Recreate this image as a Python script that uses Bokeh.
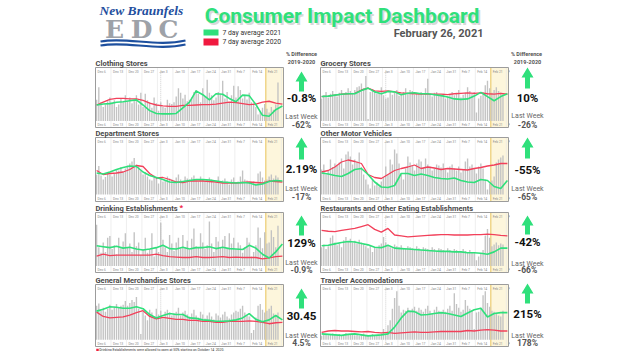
from bokeh.plotting import figure
from bokeh.layouts import column, row
from bokeh.models import Range1d, Spacer
from bokeh.embed import file_html
from bokeh.resources import INLINE
from bokeh.core.properties import value

# ---------------- data ----------------
bar_days = list(range(83))            # Dec 6 .. Feb 26, one bar per day
line_days = list(range(0, 85, 3))     # 7-day averages, read every 3 days
week_days = list(range(0, 85, 7))
week_labels = ["Dec 6", "Dec 13", "Dec 20", "Dec 27", "Jan 3", "Jan 10", "Jan 17",
               "Jan 24", "Jan 31", "Feb 7", "Feb 14", "Feb 21", "F"]

clothing_bars = [45,72,40,30,35,42,50, 38,44,30,35,48,40,55, 42,50,38,46,55,35,60, 30,58,44,40,28,50,38,
                 22,40,30,28,45,38,36, 40,52,70,60,48,56,42, 45,50,62,66,58,40,70, 52,88,60,55,44,50,62,
                 58,86,48,62,40,55,75, 50,74,66,48,56,46,60, 40,38,30,14,20,28,36, 26,18,30,24,35,82]
clothing_2021 = [34,36,37,40,41,43,45,34,22,16,15,15,16,28,40,64,56,45,58,57,48,41,55,54,35,12,10,24,32]
clothing_2020 = [34,40,46,48,48,47,47,44,38,34,32,31,31,33,33,34,35,35,36,38,40,39,37,35,36,40,42,38,36]

grocery_bars = [48,55,62,50,58,64,56, 52,60,66,58,62,70,64, 60,66,72,74,80,70,96, 4,62,68,64,58,60,72,
                55,48,50,62,56,60,66, 54,58,62,70,60,66,64, 56,60,58,62,55,70,90, 58,52,60,62,56,54,58,
                48,52,58,62,55,60,66, 50,56,60,72,64,58,62, 18,48,54,62,76,86,70, 60,66,72,64,60,58]
grocery_2021 = [52,53,55,57,58,58,65,70,62,58,63,62,56,59,60,58,58,56,54,51,47,46,47,53,61,52,43,52,58]
grocery_2020 = [52,53,55,57,58,59,66,70,64,63,64,62,60,59,58,57,57,57,57,56,58,59,60,59,60,58,57,59,57]

department_bars = [40,57,38,30,35,44,40, 36,42,50,48,55,46,52, 58,62,66,73,60,56,48, 40,45,36,30,28,38,34,
                   22,30,26,28,36,32,30, 28,34,40,30,26,36,32, 30,34,38,28,26,36,30, 26,30,34,30,24,28,36,
                   22,28,32,26,20,30,34, 24,26,36,48,30,28,24, 20,26,22,42,46,34,28, 30,36,40,32,38,34]
department_2021 = [43,41,45,50,54,57,56,45,38,34,30,25,24,26,28,30,30,29,27,25,24,23,24,23,19,21,26,28,27]
department_2020 = [48,40,42,43,45,50,58,56,42,33,34,30,25,24,27,27,27,26,25,23,23,23,24,25,24,23,27,26,25]

motor_bars = [50,60,40,48,70,55,62, 58,64,72,52,80,86,76, 60,70,66,84,55,40,30, 20,12,30,18,24,16,26,
              34,56,40,70,60,90,82, 62,40,30,52,76,64,58, 48,62,70,66,54,72,60, 56,48,52,60,58,54,62,
              50,44,56,60,52,48,56, 44,50,66,72,56,60,52, 42,56,62,52,30,10,22, 28,36,64,70,74,78]
motor_2021 = [43,41,38,36,42,50,52,40,25,15,14,18,42,42,38,41,38,34,32,31,33,28,25,24,30,28,16,12,28]
motor_2020 = [45,48,55,65,69,66,62,40,34,32,40,48,52,55,59,52,55,53,50,52,51,50,49,52,54,57,59,62,62]

drinking_bars = [88,40,28,50,30,60,64, 36,44,25,60,38,52,70, 40,48,30,72,42,50,24, 36,60,28,36,70,20,40,
                 30,92,56,40,30,66,48, 32,50,60,38,66,40,54, 34,58,80,42,40,70,50, 36,44,95,48,30,62,52,
                 40,56,64,38,70,48,60, 36,50,44,28,40,60,50, 20,30,44,82,60,38,72, 48,50,76,62,40,86]
drinking_2021 = [43,41,39,42,38,40,36,34,36,39,44,37,36,40,36,39,39,41,37,40,37,36,35,44,38,25,17,30,47]
drinking_2020 = [21,25,22,23,23,23,23,23,23,25,22,20,19,18,18,20,18,18,19,20,18,19,18,18,18,15,17,20,21]

restaurant_bars = [40,46,36,42,60,65,50, 44,48,40,55,62,52,58, 50,54,48,56,50,46,42, 38,44,30,40,38,44,48,
                   62,50,44,40,38,46,42, 40,44,38,36,42,40,38, 36,42,38,34,40,38,36, 34,40,36,32,38,36,34,
                   32,38,34,30,36,34,32, 30,36,32,28,34,30,28, 12,20,26,34,65,79,60, 42,46,50,44,48,46]
restaurant_2021 = [43,44,47,50,52,51,48,45,40,39,44,38,37,36,35,34,33,32,31,31,30,30,28,28,27,25,30,38,38]
restaurant_2020 = [76,74,73,76,78,80,84,88,78,72,80,66,64,62,63,64,65,66,67,67,66,66,66,67,67,68,67,65,64]

merch_bars = [70,75,60,66,58,64,72, 62,68,74,66,70,72,80, 70,76,82,78,88,64,12, 58,50,40,62,56,48,64,
              52,60,44,58,62,56,50, 54,58,66,50,56,60,52, 48,54,62,50,46,58,52, 44,50,56,48,42,54,50,
              46,52,58,48,44,52,56, 60,58,64,70,56,50,48, 14,20,46,70,74,62,56, 60,64,70,54,50,56]
merch_2021 = [59,63,68,67,65,65,68,64,52,45,50,54,52,52,45,44,41,40,38,38,39,41,45,54,42,37,41,50,41]
merch_2020 = [57,48,45,46,47,51,56,60,48,43,46,44,42,42,40,40,38,38,36,36,38,38,38,39,38,36,33,35,36]

travel_bars = [8,10,12,9,11,13,10, 8,12,10,9,14,11,10, 12,9,10,8,11,13,9, 10,8,12,9,10,11,13,
               22,12,30,40,64,86,100, 70,56,62,60,66,58,64, 68,60,66,62,58,64,70, 60,54,62,68,60,56,62,
               58,64,70,60,96,74,66, 58,62,82,70,64,60,22, 56,58,66,92,100,76,68, 60,58,54,50,48,60]
travel_2021 = [12,11,10,9,11,12,10,8,9,10,12,26,45,59,58,51,52,54,56,54,51,48,55,62,65,47,54,56,56]
travel_2020 = [15,18,19,18,18,17,16,17,15,14,15,13,14,15,16,15,15,16,17,17,17,17,19,18,20,21,20,18,18]

left_titles = ["Clothing Stores", "Department Stores", "Drinking Establishments", "General Merchandise Stores"]
right_titles = ["Grocery Stores", "Other Motor Vehicles", "Restaurants and Other Eating Establishments",
                "Traveler Accomodations"]
left_pct = ["-0.8%", "2.19%", "129%", "30.45"]
left_last = ["-62%", "-17%", "-0.9%", "4.5%"]
right_pct = ["10%", "-55%", "-42%", "215%"]
right_last = ["-26%", "-65%", "-66%", "178%"]

GREEN = "#2fe07b"
RED = "#f2405a"
FONT = value("Roboto")

X0, X1 = -0.5, 84.5
Y0, Y1 = -14, 114


def base_fig(W, H, xr, yr):
    p = figure(width=W, height=H, output_backend="svg", toolbar_location=None,
               x_range=xr, y_range=yr, x_axis_type=None, y_axis_type=None,
               min_border=0, outline_line_color=None,
               background_fill_color="white", border_fill_color="white")
    return p


def chart_fig(title, bars, g_vals, r_vals, H, bt, bb, W=192, bl=3, br=191, star=False, note=False):
    sx = (X1 - X0) / (br - bl)
    sy = (Y1 - Y0) / (bb - bt)
    p = base_fig(W, H, Range1d(X0 - bl * sx, X1 + (W - br) * sx),
                 Range1d(Y0 - (H - bb) * sy, Y1 + bt * sy))
    # current-week highlight
    p.quad(left=[76.5], right=[X1], bottom=[Y0], top=[Y1], fill_color="#fdf6dc", line_color=None)
    # week grid
    p.segment(x0=[d - 0.5 for d in week_days], y0=Y0, x1=[d - 0.5 for d in week_days], y1=Y1,
              line_color="#e6e6e6", line_width=0.7)
    p.segment(x0=[76.5], y0=Y0, x1=[76.5], y1=Y1, line_color="#efcf72", line_width=1.2)
    p.segment(x0=[29.0], y0=Y0 + 8, x1=[29.0], y1=Y1 - 8, line_color="#c4c4c4",
              line_width=0.8, line_dash="1 1")
    # bars and lines
    p.vbar(x=bar_days, top=bars, bottom=0, width=0.62, fill_color="#c3c3c3", line_color=None)
    p.line(line_days, r_vals, line_color=RED, line_width=1.3)
    p.line(line_days, g_vals, line_color=GREEN, line_width=1.6)
    # date labels inside the box
    for yy in (Y1 - 4 * sy, Y0 + 3 * sy):
        p.text(x=[d + 0.4 for d in week_days], y=[yy] * len(week_days), text=week_labels,
               text_font=FONT, text_font_size="3.3px", text_color="#8a8a8a",
               text_baseline="middle", text_align="left")
    # box
    p.quad(left=[X0], right=[X1], bottom=[Y0], top=[Y1], fill_color=None,
           line_color="#9c9c9c", line_width=1)
    # title
    p.text(x=[X0], y=[Y1 + 4.2 * sy], text=[title], text_font=FONT, text_font_style="bold",
           text_font_size="7.5px", text_color="#4a4a4a", text_baseline="middle")
    if star:
        p.text(x=[X0 + 84 * sx], y=[Y1 + 5.2 * sy], text=["*"], text_font=FONT,
               text_font_style="bold", text_font_size="8px", text_color="#f0203c",
               text_baseline="middle")
    if note:
        p.scatter(x=[X0 + 2 * sx], y=[Y0 - 3.5 * sy], marker="square", size=2.5,
                  fill_color="#f0203c", line_color=None)
        p.text(x=[X0 + 3.8 * sx], y=[Y0 - 3.5 * sy],
               text=["Drinking Establishments were allowed to open at 50% starting on October 14, 2020."],
               text_font=FONT, text_font_size="3.4px", text_color="#333333", text_baseline="middle")
    return p


def info_fig(W, H, cx, at, ab, pct, pct_y, lw_y, last, last_y, top=False):
    p = base_fig(W, H, Range1d(0, W), Range1d(H, 0))
    if top:
        p.text(x=[cx], y=[5], text=["2019-2020"], text_font=FONT, text_font_style="bold",
               text_font_size="5.5px", text_color="#555555", text_align="center", text_baseline="middle")
    hw, hh, sw = 6, 10, 2.5
    p.patch(x=[cx - hw, cx, cx + hw, cx + sw, cx + sw, cx - sw, cx - sw],
            y=[at + hh, at, at + hh, at + hh, ab, ab, at + hh], fill_color=GREEN, line_color=None)
    p.text(x=[cx], y=[pct_y], text=[pct], text_font=FONT, text_font_style="bold",
           text_font_size="11.5px", text_color="#111111", text_align="center", text_baseline="middle")
    p.text(x=[cx], y=[lw_y], text=["Last Week"], text_font=FONT, text_font_size="7px",
           text_color="#666666", text_align="center", text_baseline="middle")
    p.text(x=[cx], y=[last_y], text=[last], text_font=FONT, text_font_style="bold",
           text_font_size="8.5px", text_color="#555555", text_align="center", text_baseline="middle")
    return p


# ---------------- header (coordinates = page pixels) ----------------
hdr = base_fig(632, 56, Range1d(0, 632), Range1d(56, 0))
hdr.text(x=[99], y=[10], text=["New Braunfels"], text_font=value("Liberation Serif"),
         text_font_style="bold italic", text_font_size="13.5px", text_color="#1f4f9e",
         text_baseline="middle")
hdr.text(x=[114, 141, 168], y=[28.5, 28.5, 28.5], text=["E", "D", "C"], text_font=value("DejaVu Serif"),
         text_font_style="bold", text_font_size="25px", text_color="#9ea2a8",
         text_align="center", text_baseline="middle")
hdr.bezier(x0=[100, 100], y0=[41, 45], x1=[185, 185], y1=[40, 44], cx0=[126, 126], cy0=[36, 40],
           cx1=[156, 156], cy1=[47, 51], line_color="#1d4f9e", line_width=2.2)
hdr.text(x=[343.5], y=[17], text=["Consumer Impact Dashboard"], text_font=FONT, text_font_style="bold",
         text_font_size="21px", text_color="#c9c9c9", text_alpha=0.7, text_align="center",
         text_baseline="middle")
hdr.text(x=[341.5], y=[15], text=["Consumer Impact Dashboard"], text_font=FONT, text_font_style="bold",
         text_font_size="21px", text_color=GREEN, text_align="center", text_baseline="middle")
hdr.quad(left=[203, 203], right=[218, 218], top=[29, 38], bottom=[35, 45],
         fill_color=[GREEN, "#f0193f"], line_color=None)
hdr.text(x=[222, 222], y=[32, 41.5], text=["7 day average 2021", "7 day average 2020"], text_font=FONT,
         text_font_size="6.8px", text_color="#333333", text_baseline="middle")
hdr.text(x=[483], y=[33], text=["February 26, 2021"], text_font=FONT, text_font_style="bold",
         text_font_size="11px", text_color="#555555", text_align="right", text_baseline="middle")
hdr.text(x=[301, 526], y=[53, 53], text=["% Difference", "% Difference"], text_font=FONT,
         text_font_style="bold", text_font_size="5.5px", text_color="#555555",
         text_align="center", text_baseline="middle")

# ---------------- panels ----------------
series_left = [(clothing_bars, clothing_2021, clothing_2020),
               (department_bars, department_2021, department_2020),
               (drinking_bars, drinking_2021, drinking_2020),
               (merch_bars, merch_2021, merch_2020)]
series_right = [(grocery_bars, grocery_2021, grocery_2020),
                (motor_bars, motor_2021, motor_2020),
                (restaurant_bars, restaurant_2021, restaurant_2020),
                (travel_bars, travel_2021, travel_2020)]

row_geom = [(73, 11, 71), (74, 8, 72), (70, 9, 69), (78, 11, 73)]
left_info_y = [(15, 35, 41, 60, 68.5), (8, 30, 39, 59, 67), (12, 32, 39, 59, 66), (15, 35, 42, 62, 69)]
right_info_y = [(11, 32, 41, 59, 68.5), (8, 29, 40, 59, 67), (12, 31, 38, 60, 66), (10, 30, 40, 62, 69)]

rows = [hdr]
for i in range(4):
    H, bt, bb = row_geom[i]
    bl_, g_, r_ = series_left[i]
    cl = chart_fig(left_titles[i], bl_, g_, r_, H, bt, bb, star=(i == 2), note=(i == 3))
    a, b, c, d, e = left_info_y[i]
    il = info_fig(34, H, 17, a, b, left_pct[i], c, d, left_last[i], e, top=(i == 0))
    br_, g2, r2 = series_right[i]
    cr = chart_fig(right_titles[i], br_, g2, r2, H, bt, bb, bl=2, br=190)
    a, b, c, d, e = right_info_y[i]
    ir = info_fig(40, H, 17, a, b, right_pct[i], c, d, right_last[i], e, top=(i == 0))
    rows.append(row(Spacer(width=92, height=H), cl, il, cr, ir))

layout = column(*rows)
open("out.html", "w").write(file_html(layout, INLINE))
